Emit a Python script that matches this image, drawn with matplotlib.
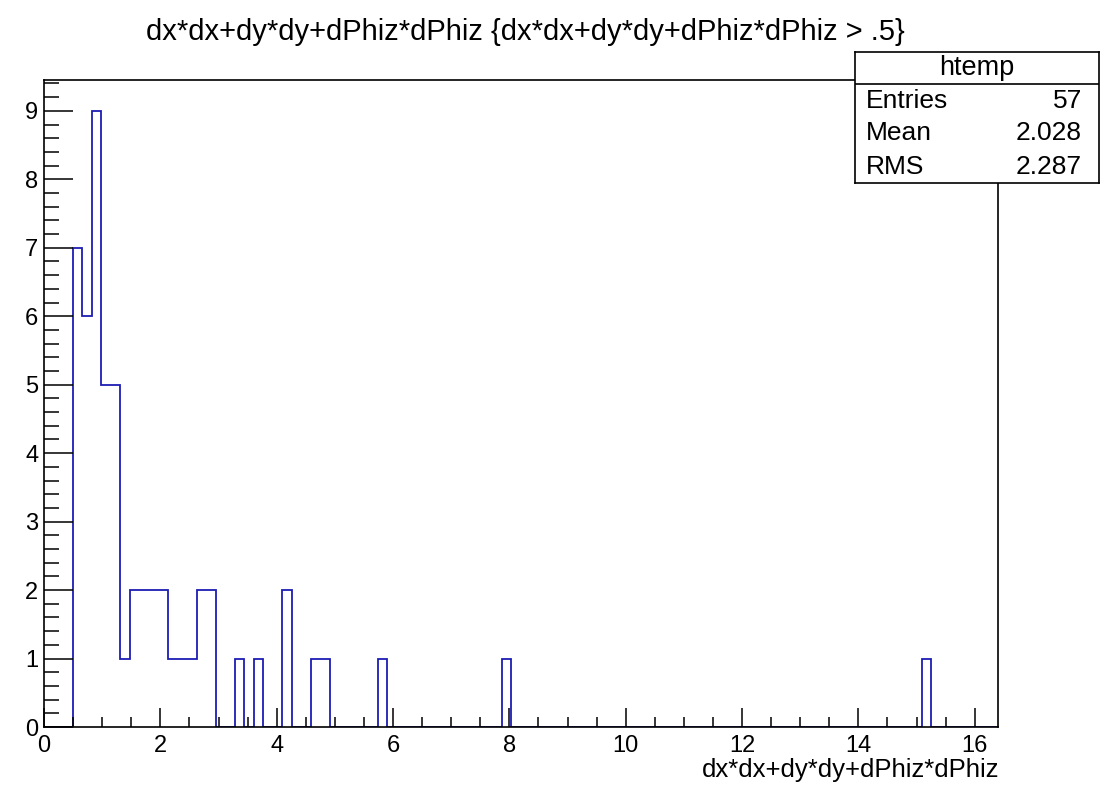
import numpy as np
import matplotlib
matplotlib.use("Agg")
import matplotlib.pyplot as plt
from matplotlib.ticker import MultipleLocator

plt.rcParams["font.family"] = ["Liberation Sans", "DejaVu Sans"]

# htemp: 100 bins on [0, 16.4], only the filled bins listed
n_bins = 100
x_min, x_max = 0.0, 16.4
filled_bins = [3, 4, 5, 6, 7, 8, 9, 10, 11, 12, 13, 14, 15, 16, 17,
               20, 22, 25, 28, 29, 35, 48, 92]
filled_counts = [7, 6, 9, 5, 5, 1, 2, 2, 2, 2, 1, 1, 1, 2, 2,
                 1, 1, 2, 1, 1, 1, 1, 1]

# stats box
hist_name = "htemp"
stat_names = ["Entries", "Mean", "RMS"]
stat_values = ["57", "2.028", "2.287"]

var_expr = "dx*dx+dy*dy+dPhiz*dPhiz"
title = var_expr + " {" + var_expr + " > .5}"

edges = np.linspace(x_min, x_max, n_bins + 1)
counts = np.zeros(n_bins)
counts[filled_bins] = filled_counts

W, H = 1104, 785
fig = plt.figure(figsize=(W / 100, H / 100), dpi=100)
ax = fig.add_axes([44 / W, 1 - 727 / H, (998 - 44) / W, (727 - 80) / H])

ax.stairs(counts, edges, color="#1c1cb4", linewidth=1.3)

ax.set_xlim(x_min, x_max)
ax.set_ylim(0, counts.max() * 1.05)

ax.xaxis.set_major_locator(MultipleLocator(2))
ax.xaxis.set_minor_locator(MultipleLocator(0.5))
ax.yaxis.set_major_locator(MultipleLocator(1))
ax.yaxis.set_minor_locator(MultipleLocator(0.2))

ax.tick_params(axis="both", direction="in", labelsize=17, width=1.1,
               top=False, right=False, which="both")
ax.tick_params(axis="x", which="major", length=13.7, pad=6)
ax.tick_params(axis="x", which="minor", length=7)
ax.tick_params(axis="y", which="major", length=20.6, pad=4)
ax.tick_params(axis="y", which="minor", length=10.5)
for s in ax.spines.values():
    s.set_linewidth(1.2)

fig.text(525 / W, 1 - 32 / H, title, ha="center", va="center", fontsize=21)
fig.text(999 / W, 1 - 770 / H, var_expr, ha="right", va="center", fontsize=18.5)

# stats panel
sb = fig.add_axes([855 / W, 1 - 183 / H, (1099 - 855) / W, (183 - 52) / H])
sb.set_xlim(0, 1)
sb.set_ylim(0, 1)
sb.set_xticks([])
sb.set_yticks([])
for s in sb.spines.values():
    s.set_linewidth(1.2)
head = 32 / 131
sb.axhline(1 - head, color="black", linewidth=1.2)
sb.text(0.5, 1 - head / 2, hist_name, ha="center", va="center", fontsize=19.5)
row_h = (1 - head) / len(stat_names)
for i, (name, val) in enumerate(zip(stat_names, stat_values)):
    yc = 1 - head - row_h * (i + 0.5)
    sb.text(0.045, yc, name, ha="left", va="center", fontsize=19)
    sb.text(0.93, yc, val, ha="right", va="center", fontsize=19)

fig.savefig("out.png", dpi=100)
